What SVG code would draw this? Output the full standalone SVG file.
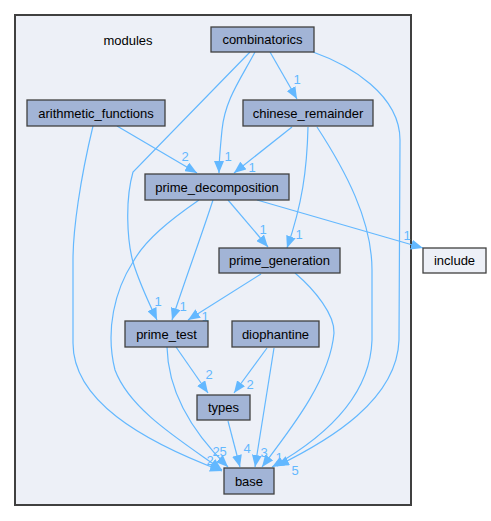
<svg xmlns="http://www.w3.org/2000/svg" width="491" height="521" viewBox="0 0 491 521">
<defs>
<style>
.node rect{fill:#a2b4d6;stroke:#404040;stroke-width:1.3}
.node text,.lbl{font-family:"Liberation Sans",Arial,sans-serif;font-size:13px;text-anchor:middle}
.node text{fill:#000}
.edge{fill:none;stroke:#63b8ff;stroke-width:1.2}
.lbl{fill:#63b8ff}
</style>
<marker id="ah" markerUnits="userSpaceOnUse" markerWidth="13" markerHeight="10" refX="12" refY="5" orient="auto">
<path d="M0,0 L12,5 L0,10 z" fill="#63b8ff"/>
</marker>
</defs>
<rect x="0" y="0" width="491" height="521" fill="#fff"/>
<g id="cluster_modules">
<rect x="15" y="15" width="396" height="490" fill="#edf0f7" stroke="#404040" stroke-width="2"/>
<text x="128" y="45" font-family="Liberation Sans,Arial,sans-serif" font-size="13" text-anchor="middle">modules</text>
</g>
<g id="connectors">
<path class="edge" marker-end="url(#ah)" d="M270,52 L297,99"/>
<path class="edge" marker-end="url(#ah)" d="M255,52 C240,80 225,100 222,130 C220,150 219,160 219,173"/>
<path class="edge" marker-end="url(#ah)" d="M250,52 L133,172 C125,200 127,240 133,262 C140,285 150,305 157,320"/>
<path class="edge" marker-end="url(#ah)" d="M313,52 C350,65 400,95 400,140 L399,340 C397,400 330,440 277,466"/>
<path class="edge" marker-end="url(#ah)" d="M292,127 L234,173"/>
<path class="edge" marker-end="url(#ah)" d="M308,127 C307,170 302,205 287,248"/>
<path class="edge" marker-end="url(#ah)" d="M317,127 C345,170 372,220 372,270 L372,340 C370,400 320,440 272,467"/>
<path class="edge" marker-end="url(#ah)" d="M117,126 L197,173"/>
<path class="edge" marker-end="url(#ah)" d="M93,126 C80,180 73,230 73,260 L73,343 C73,400 140,440 222,471"/>
<path class="edge" marker-end="url(#ah)" d="M257,200 L423,248"/>
<path class="edge" marker-end="url(#ah)" d="M228,200 L268,247"/>
<path class="edge" marker-end="url(#ah)" d="M213,200 C200,240 185,280 172,320"/>
<path class="edge" marker-end="url(#ah)" d="M199,200 C170,220 145,240 133,262 C115,290 105,330 115,370 C130,410 180,440 222,470"/>
<path class="edge" marker-end="url(#ah)" d="M261,274 L188,320"/>
<path class="edge" marker-end="url(#ah)" d="M295,273 C315,290 335,315 334,333 C330,380 290,430 262,467"/>
<path class="edge" marker-end="url(#ah)" d="M176,347 L208,393"/>
<path class="edge" marker-end="url(#ah)" d="M167,347 C168,390 190,430 228,467"/>
<path class="edge" marker-end="url(#ah)" d="M267,348 L234,393"/>
<path class="edge" marker-end="url(#ah)" d="M274,348 L255,467"/>
<path class="edge" marker-end="url(#ah)" d="M228,421 L240,467"/>
<text class="lbl" x="297" y="84">1</text>
<text class="lbl" x="228" y="161">1</text>
<text class="lbl" x="158" y="306">1</text>
<text class="lbl" x="295" y="475">5</text>
<text class="lbl" x="252" y="172">1</text>
<text class="lbl" x="299" y="239">1</text>
<text class="lbl" x="279" y="462">1</text>
<text class="lbl" x="185" y="161">2</text>
<text class="lbl" x="210" y="465">2</text>
<text class="lbl" x="407" y="240">1</text>
<text class="lbl" x="263" y="234">1</text>
<text class="lbl" x="183" y="311">1</text>
<text class="lbl" x="216" y="456">2</text>
<text class="lbl" x="223" y="456">5</text>
<text class="lbl" x="205" y="321">1</text>
<text class="lbl" x="209" y="379">2</text>
<text class="lbl" x="250" y="389">2</text>
<text class="lbl" x="264" y="457">3</text>
<text class="lbl" x="247" y="453">4</text>
</g>
<g id="node_combinatorics" class="node"><rect x="211" y="27" width="103" height="25"/><text x="262.5" y="44">combinatorics</text></g>
<g id="node_arithmetic_functions" class="node"><rect x="27" y="100" width="138" height="26"/><text x="96" y="117.5">arithmetic_functions</text></g>
<g id="node_chinese_remainder" class="node"><rect x="243" y="100" width="130" height="26"/><text x="308" y="117.5">chinese_remainder</text></g>
<g id="node_prime_decomposition" class="node"><rect x="145" y="174" width="144" height="26"/><text x="217" y="191.5">prime_decomposition</text></g>
<g id="node_include" class="node"><rect x="423" y="248" width="63" height="25" style="fill:#edf0f7"/><text x="454.5" y="265">include</text></g>
<g id="node_prime_generation" class="node"><rect x="219" y="248" width="121" height="25"/><text x="279.5" y="265">prime_generation</text></g>
<g id="node_prime_test" class="node"><rect x="125" y="321" width="83" height="26"/><text x="166.5" y="338.5">prime_test</text></g>
<g id="node_diophantine" class="node"><rect x="232" y="321" width="87" height="26"/><text x="275.5" y="338.5">diophantine</text></g>
<g id="node_types" class="node"><rect x="197" y="395" width="53" height="25"/><text x="223.5" y="412">types</text></g>
<g id="node_base" class="node"><rect x="224" y="468" width="50" height="26"/><text x="249" y="485.5">base</text></g>
</svg>
